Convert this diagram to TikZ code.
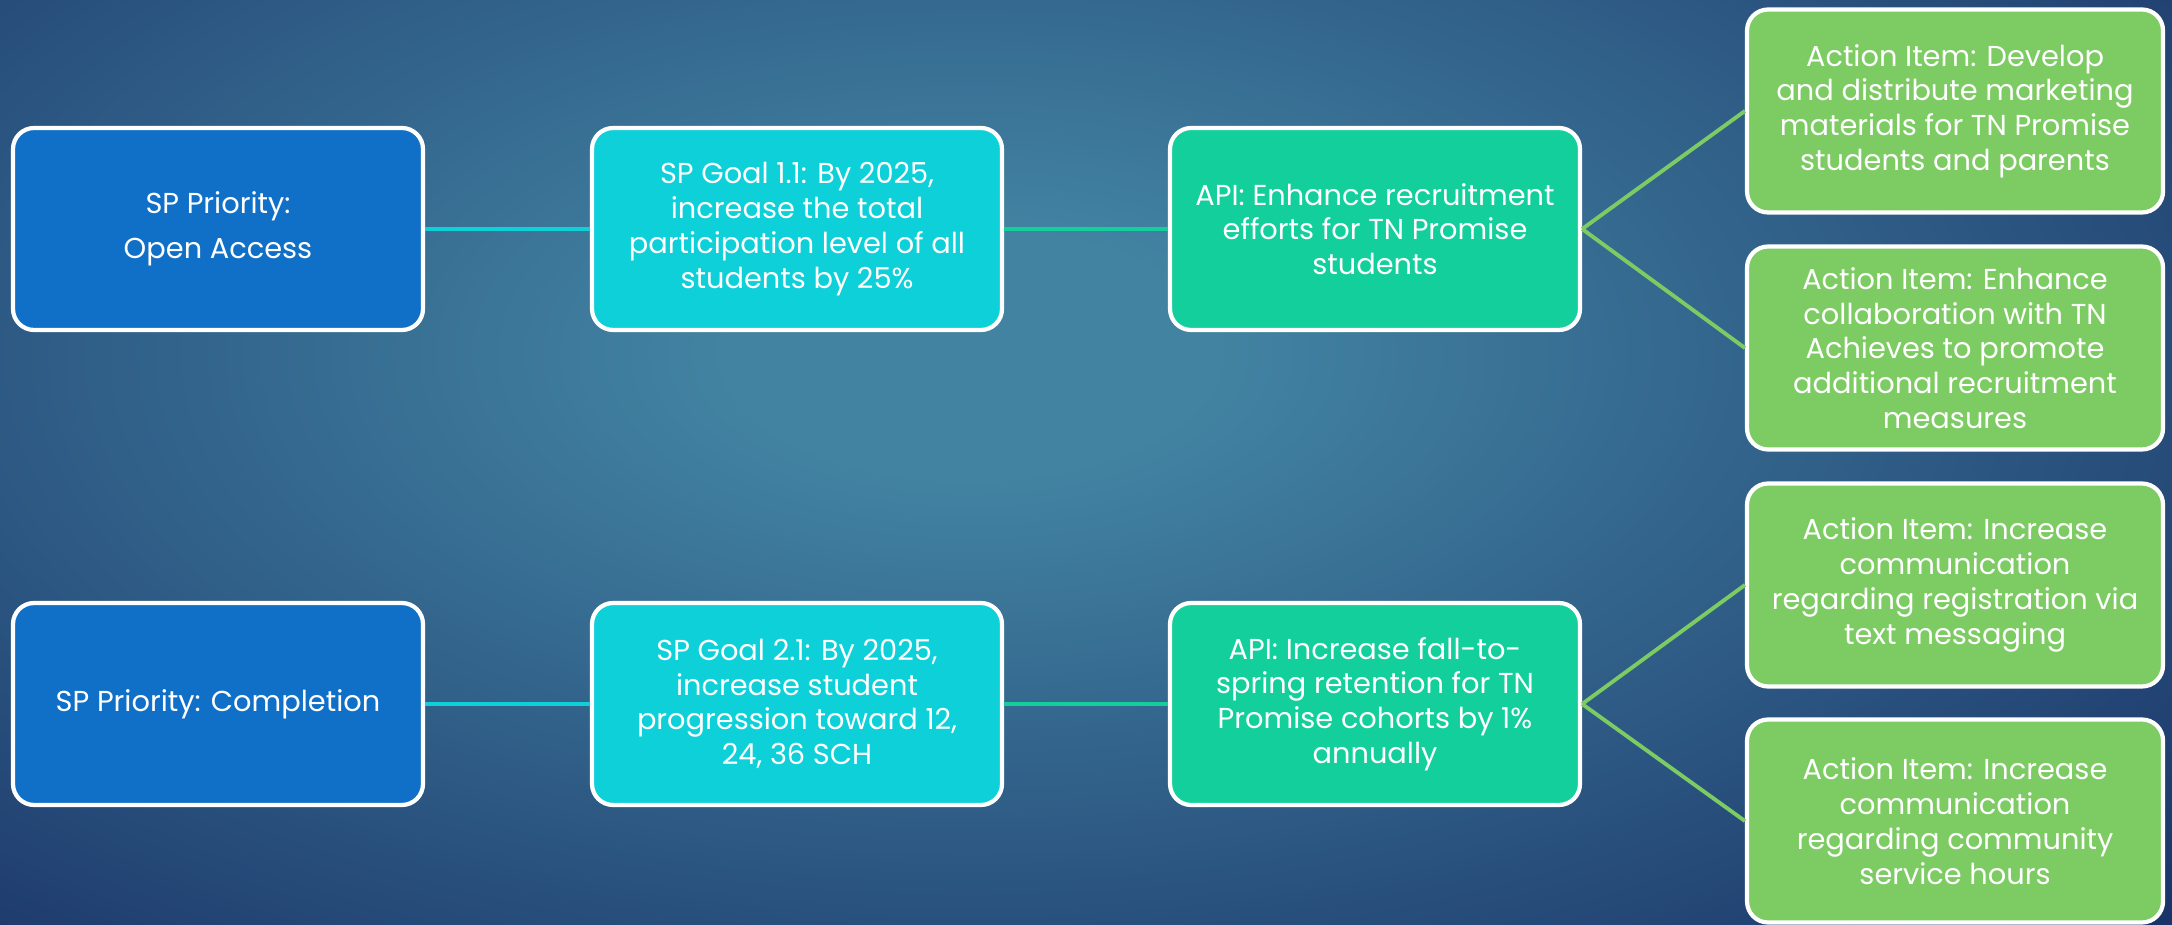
\documentclass[tikz,border=0pt]{standalone}
\usepackage{fontspec}
\setmainfont{Poppins}
\usetikzlibrary{positioning}

\definecolor{prioblue}{HTML}{1070C8}
\definecolor{goalcyan}{HTML}{0DD0D9}
\definecolor{apiteal}{HTML}{12CF9C}
\definecolor{actgreen}{HTML}{7DCB63}
\definecolor{bgmid}{HTML}{4283A2}
\definecolor{bgdark}{HTML}{12235C}

\pgfdeclareradialshading{bgglow}{\pgfpoint{0bp}{0bp}}{color(0bp)=(bgmid); color(5bp)=(bgmid); color(40bp)=(bgdark); color(50bp)=(bgdark)}

\tikzset{
  box/.style={draw=white, line width=1.2pt, rounded corners=6pt, minimum width=4.10cm,
    minimum height=2.02cm, align=center, text=white, inner sep=0pt,
    font=\fontsize{8.2}{9.9}\selectfont},
  priobox/.style={box, fill=prioblue},
  goalbox/.style={box, fill=goalcyan},
  apibox/.style={box, fill=apiteal},
  actbox/.style={box, fill=actgreen, minimum width=4.16cm, minimum height=2.03cm},
  link/.style={line width=1.1pt}
}

\begin{document}
\begin{tikzpicture}

\useasboundingbox (0,0) rectangle (21.72, 9.24);
\shade[shading=bgglow] (-2.4,-0.4) rectangle (21.8, 11.8);

% first priority row
\node[priobox] (prio1) at (2.18, 6.95) {SP Priority:\\[3pt] Open Access};
\node[goalbox] (goal1) at (7.97, 6.95) {SP Goal 1.1: By 2025,\\ increase the total\\ participation level of all\\ students by 25\%};
\node[apibox] (api1) at (13.75, 6.95) {API: Enhance recruitment\\ efforts for TN Promise\\ students};
\node[actbox] (act1) at (19.55, 8.13) {Action Item: Develop\\ and distribute marketing\\ materials for TN Promise\\ students and parents};
\node[actbox] (act2) at (19.55, 5.76) {Action Item: Enhance\\ collaboration with TN\\ Achieves to promote\\ additional recruitment\\ measures};

% second priority row
\node[priobox] (prio2) at (2.18, 2.20) {SP Priority: Completion};
\node[goalbox] (goal2) at (7.97, 2.20) {SP Goal 2.1: By 2025,\\ increase student\\ progression toward 12,\\ 24, 36 SCH};
\node[apibox] (api2) at (13.75, 2.20) {API: Increase fall-to-\\ spring retention for TN\\ Promise cohorts by 1\%\\ annually};
\node[actbox] (act3) at (19.55, 3.39) {Action Item: Increase\\ communication\\ regarding registration via\\ text messaging};
\node[actbox] (act4) at (19.55, 1.03) {Action Item: Increase\\ communication\\ regarding community\\ service hours};

\draw[link, goalcyan] (prio1) -- (goal1);
\draw[link, apiteal] (goal1) -- (api1);
\draw[link, actgreen] (api1.east) -- (act1.west);
\draw[link, actgreen] (api1.east) -- (act2.west);

\draw[link, goalcyan] (prio2) -- (goal2);
\draw[link, apiteal] (goal2) -- (api2);
\draw[link, actgreen] (api2.east) -- (act3.west);
\draw[link, actgreen] (api2.east) -- (act4.west);

\end{tikzpicture}
\end{document}
